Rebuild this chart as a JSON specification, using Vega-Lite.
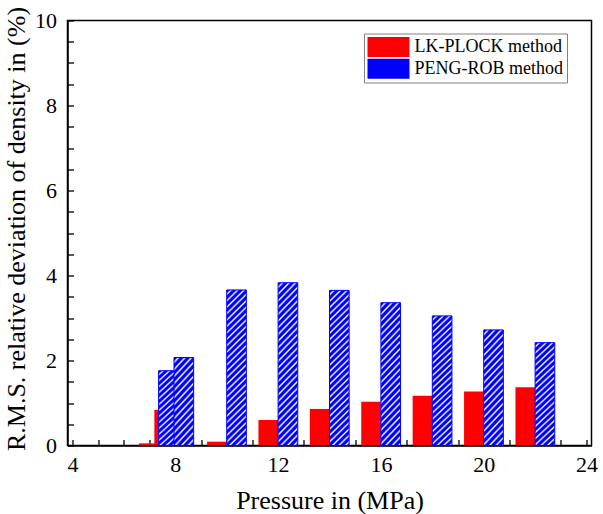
{
 "$schema": "https://vega.github.io/schema/vega-lite/v6.json",
 "width": 524,
 "height": 425,
 "autosize": {"type": "none"},
 "padding": {"left": 67.5, "top": 20.5, "right": 11.5, "bottom": 68.5},
 "background": "white",
 "data": {"values": [
  {"pressure": 7.35, "lk": 0.05, "peng": 1.76},
  {"pressure": 7.95, "lk": 0.84, "peng": 2.07},
  {"pressure": 10, "lk": 0.09, "peng": 3.66},
  {"pressure": 12, "lk": 0.6, "peng": 3.83},
  {"pressure": 14, "lk": 0.86, "peng": 3.65},
  {"pressure": 16, "lk": 1.03, "peng": 3.36},
  {"pressure": 18, "lk": 1.17, "peng": 3.05},
  {"pressure": 20, "lk": 1.27, "peng": 2.72},
  {"pressure": 22, "lk": 1.37, "peng": 2.42}
 ]},
 "encoding": {
  "x": {"field": "pressure", "type": "quantitative",
   "scale": {"domain": [4, 24], "nice": false, "zero": false},
   "axis": {"values": [4,5,6,7,8,9,10,11,12,13,14,15,16,17,18,19,20,21,22,23,24],
    "labelExpr": "datum.value % 4 === 0 ? format(datum.value, 'd') : ''",
    "title": "Pressure in (MPa)"}}
 },
 "layer": [
  {
   "mark": {"type": "bar", "width": 19.65, "xOffset": -9.825},
   "encoding": {
    "y": {"field": "lk", "type": "quantitative", "scale": {"domain": [0, 10], "nice": false},
     "axis": {"values": [0,0.5,1,1.5,2,2.5,3,3.5,4,4.5,5,5.5,6,6.5,7,7.5,8,8.5,9,9.5,10],
      "labelExpr": "datum.value % 2 === 0 ? format(datum.value, 'd') : ''",
      "title": "R.M.S. relative deviation of density in (%)", "titleY": 208}},
    "fill": {"datum": "LK-PLOCK method", "type": "nominal",
     "scale": {"domain": ["LK-PLOCK method", "PENG-ROB method"], "range": ["#ff0000", "#0000ff"]},
     "legend": {"title": null, "orient": "none", "legendX": 296.5, "legendY": 13,
      "symbolType": "M-2.1,-1H2.1V1H-2.1Z", "symbolSize": 400, "symbolOffset": 11,
      "symbolStrokeWidth": 0, "labelOffset": 16,
      "labelFont": "Liberation Serif", "labelFontSize": 18, "labelColor": "#000", "labelLimit": 300,
      "rowPadding": 1.7, "padding": 3.5, "strokeColor": "#808080", "fillColor": "#ffffff"}
    }
   }
  },
  {
   "mark": {"type": "bar", "width": 19.65, "xOffset": 9.825, "stroke": "#0000ff", "strokeWidth": 1},
   "encoding": {
    "y": {"field": "peng", "type": "quantitative", "scale": {"domain": [0, 10], "nice": false},
     "axis": {"values": [0,0.5,1,1.5,2,2.5,3,3.5,4,4.5,5,5.5,6,6.5,7,7.5,8,8.5,9,9.5,10],
      "labelExpr": "datum.value % 2 === 0 ? format(datum.value, 'd') : ''",
      "title": "R.M.S. relative deviation of density in (%)", "titleY": 208}},
    "fill": {"condition": [
       {"test": "datum.peng < 2.25", "value":
       {"gradient": "linear", "x1": 0, "y1": 0, "x2": 0.52823, "y2": 2.1882, "stops": [
{"offset":0,"color":"#00f"},{"offset":0.01379,"color":"#00f"},{"offset":0.02414,"color":"#fff"},
{"offset":0.03448,"color":"#00f"},{"offset":0.04828,"color":"#00f"},{"offset":0.05862,"color":"#fff"},
{"offset":0.06897,"color":"#00f"},{"offset":0.08276,"color":"#00f"},{"offset":0.0931,"color":"#fff"},
{"offset":0.10345,"color":"#00f"},{"offset":0.11724,"color":"#00f"},{"offset":0.12759,"color":"#fff"},
{"offset":0.13793,"color":"#00f"},{"offset":0.15172,"color":"#00f"},{"offset":0.16207,"color":"#fff"},
{"offset":0.17241,"color":"#00f"},{"offset":0.18621,"color":"#00f"},{"offset":0.19655,"color":"#fff"},
{"offset":0.2069,"color":"#00f"},{"offset":0.22069,"color":"#00f"},{"offset":0.23103,"color":"#fff"},
{"offset":0.24138,"color":"#00f"},{"offset":0.25517,"color":"#00f"},{"offset":0.26552,"color":"#fff"},
{"offset":0.27586,"color":"#00f"},{"offset":0.28966,"color":"#00f"},{"offset":0.3,"color":"#fff"},
{"offset":0.31034,"color":"#00f"},{"offset":0.32414,"color":"#00f"},{"offset":0.33448,"color":"#fff"},
{"offset":0.34483,"color":"#00f"},{"offset":0.35862,"color":"#00f"},{"offset":0.36897,"color":"#fff"},
{"offset":0.37931,"color":"#00f"},{"offset":0.3931,"color":"#00f"},{"offset":0.40345,"color":"#fff"},
{"offset":0.41379,"color":"#00f"},{"offset":0.42759,"color":"#00f"},{"offset":0.43793,"color":"#fff"},
{"offset":0.44828,"color":"#00f"},{"offset":0.46207,"color":"#00f"},{"offset":0.47241,"color":"#fff"},
{"offset":0.48276,"color":"#00f"},{"offset":0.49655,"color":"#00f"},{"offset":0.5069,"color":"#fff"},
{"offset":0.51724,"color":"#00f"},{"offset":0.53103,"color":"#00f"},{"offset":0.54138,"color":"#fff"},
{"offset":0.55172,"color":"#00f"},{"offset":0.56552,"color":"#00f"},{"offset":0.57586,"color":"#fff"},
{"offset":0.58621,"color":"#00f"}
       ]}},
       {"test": "datum.peng < 2.9", "value":
       {"gradient": "linear", "x1": 0, "y1": 0, "x2": 0.30088, "y2": 1.67207, "stops": [
{"offset":0,"color":"#00f"},{"offset":0.01379,"color":"#00f"},{"offset":0.02414,"color":"#fff"},
{"offset":0.03448,"color":"#00f"},{"offset":0.04828,"color":"#00f"},{"offset":0.05862,"color":"#fff"},
{"offset":0.06897,"color":"#00f"},{"offset":0.08276,"color":"#00f"},{"offset":0.0931,"color":"#fff"},
{"offset":0.10345,"color":"#00f"},{"offset":0.11724,"color":"#00f"},{"offset":0.12759,"color":"#fff"},
{"offset":0.13793,"color":"#00f"},{"offset":0.15172,"color":"#00f"},{"offset":0.16207,"color":"#fff"},
{"offset":0.17241,"color":"#00f"},{"offset":0.18621,"color":"#00f"},{"offset":0.19655,"color":"#fff"},
{"offset":0.2069,"color":"#00f"},{"offset":0.22069,"color":"#00f"},{"offset":0.23103,"color":"#fff"},
{"offset":0.24138,"color":"#00f"},{"offset":0.25517,"color":"#00f"},{"offset":0.26552,"color":"#fff"},
{"offset":0.27586,"color":"#00f"},{"offset":0.28966,"color":"#00f"},{"offset":0.3,"color":"#fff"},
{"offset":0.31034,"color":"#00f"},{"offset":0.32414,"color":"#00f"},{"offset":0.33448,"color":"#fff"},
{"offset":0.34483,"color":"#00f"},{"offset":0.35862,"color":"#00f"},{"offset":0.36897,"color":"#fff"},
{"offset":0.37931,"color":"#00f"},{"offset":0.3931,"color":"#00f"},{"offset":0.40345,"color":"#fff"},
{"offset":0.41379,"color":"#00f"},{"offset":0.42759,"color":"#00f"},{"offset":0.43793,"color":"#fff"},
{"offset":0.44828,"color":"#00f"},{"offset":0.46207,"color":"#00f"},{"offset":0.47241,"color":"#fff"},
{"offset":0.48276,"color":"#00f"},{"offset":0.49655,"color":"#00f"},{"offset":0.5069,"color":"#fff"},
{"offset":0.51724,"color":"#00f"},{"offset":0.53103,"color":"#00f"},{"offset":0.54138,"color":"#fff"},
{"offset":0.55172,"color":"#00f"},{"offset":0.56552,"color":"#00f"},{"offset":0.57586,"color":"#fff"},
{"offset":0.58621,"color":"#00f"},{"offset":0.6,"color":"#00f"},{"offset":0.61034,"color":"#fff"},
{"offset":0.62069,"color":"#00f"},{"offset":0.63448,"color":"#00f"},{"offset":0.64483,"color":"#fff"},
{"offset":0.65517,"color":"#00f"},{"offset":0.66897,"color":"#00f"},{"offset":0.67931,"color":"#fff"},
{"offset":0.68966,"color":"#00f"},{"offset":0.70345,"color":"#00f"},{"offset":0.71379,"color":"#fff"},
{"offset":0.72414,"color":"#00f"}
       ]}},
       {"test": "datum.peng < 3.5", "value":
       {"gradient": "linear", "x1": 0, "y1": 0, "x2": 0.1956, "y2": 1.35578, "stops": [
{"offset":0,"color":"#00f"},{"offset":0.01379,"color":"#00f"},{"offset":0.02414,"color":"#fff"},
{"offset":0.03448,"color":"#00f"},{"offset":0.04828,"color":"#00f"},{"offset":0.05862,"color":"#fff"},
{"offset":0.06897,"color":"#00f"},{"offset":0.08276,"color":"#00f"},{"offset":0.0931,"color":"#fff"},
{"offset":0.10345,"color":"#00f"},{"offset":0.11724,"color":"#00f"},{"offset":0.12759,"color":"#fff"},
{"offset":0.13793,"color":"#00f"},{"offset":0.15172,"color":"#00f"},{"offset":0.16207,"color":"#fff"},
{"offset":0.17241,"color":"#00f"},{"offset":0.18621,"color":"#00f"},{"offset":0.19655,"color":"#fff"},
{"offset":0.2069,"color":"#00f"},{"offset":0.22069,"color":"#00f"},{"offset":0.23103,"color":"#fff"},
{"offset":0.24138,"color":"#00f"},{"offset":0.25517,"color":"#00f"},{"offset":0.26552,"color":"#fff"},
{"offset":0.27586,"color":"#00f"},{"offset":0.28966,"color":"#00f"},{"offset":0.3,"color":"#fff"},
{"offset":0.31034,"color":"#00f"},{"offset":0.32414,"color":"#00f"},{"offset":0.33448,"color":"#fff"},
{"offset":0.34483,"color":"#00f"},{"offset":0.35862,"color":"#00f"},{"offset":0.36897,"color":"#fff"},
{"offset":0.37931,"color":"#00f"},{"offset":0.3931,"color":"#00f"},{"offset":0.40345,"color":"#fff"},
{"offset":0.41379,"color":"#00f"},{"offset":0.42759,"color":"#00f"},{"offset":0.43793,"color":"#fff"},
{"offset":0.44828,"color":"#00f"},{"offset":0.46207,"color":"#00f"},{"offset":0.47241,"color":"#fff"},
{"offset":0.48276,"color":"#00f"},{"offset":0.49655,"color":"#00f"},{"offset":0.5069,"color":"#fff"},
{"offset":0.51724,"color":"#00f"},{"offset":0.53103,"color":"#00f"},{"offset":0.54138,"color":"#fff"},
{"offset":0.55172,"color":"#00f"},{"offset":0.56552,"color":"#00f"},{"offset":0.57586,"color":"#fff"},
{"offset":0.58621,"color":"#00f"},{"offset":0.6,"color":"#00f"},{"offset":0.61034,"color":"#fff"},
{"offset":0.62069,"color":"#00f"},{"offset":0.63448,"color":"#00f"},{"offset":0.64483,"color":"#fff"},
{"offset":0.65517,"color":"#00f"},{"offset":0.66897,"color":"#00f"},{"offset":0.67931,"color":"#fff"},
{"offset":0.68966,"color":"#00f"},{"offset":0.70345,"color":"#00f"},{"offset":0.71379,"color":"#fff"},
{"offset":0.72414,"color":"#00f"},{"offset":0.73793,"color":"#00f"},{"offset":0.74828,"color":"#fff"},
{"offset":0.75862,"color":"#00f"},{"offset":0.77241,"color":"#00f"},{"offset":0.78276,"color":"#fff"},
{"offset":0.7931,"color":"#00f"},{"offset":0.8069,"color":"#00f"},{"offset":0.81724,"color":"#fff"},
{"offset":0.82759,"color":"#00f"},{"offset":0.84138,"color":"#00f"},{"offset":0.85172,"color":"#fff"},
{"offset":0.86207,"color":"#00f"}
       ]}}
      ],
      "value":
       {"gradient": "linear", "x1": 0, "y1": 0, "x2": 0.14666, "y2": 1.17704, "stops": [
{"offset":0,"color":"#00f"},{"offset":0.01379,"color":"#00f"},{"offset":0.02414,"color":"#fff"},
{"offset":0.03448,"color":"#00f"},{"offset":0.04828,"color":"#00f"},{"offset":0.05862,"color":"#fff"},
{"offset":0.06897,"color":"#00f"},{"offset":0.08276,"color":"#00f"},{"offset":0.0931,"color":"#fff"},
{"offset":0.10345,"color":"#00f"},{"offset":0.11724,"color":"#00f"},{"offset":0.12759,"color":"#fff"},
{"offset":0.13793,"color":"#00f"},{"offset":0.15172,"color":"#00f"},{"offset":0.16207,"color":"#fff"},
{"offset":0.17241,"color":"#00f"},{"offset":0.18621,"color":"#00f"},{"offset":0.19655,"color":"#fff"},
{"offset":0.2069,"color":"#00f"},{"offset":0.22069,"color":"#00f"},{"offset":0.23103,"color":"#fff"},
{"offset":0.24138,"color":"#00f"},{"offset":0.25517,"color":"#00f"},{"offset":0.26552,"color":"#fff"},
{"offset":0.27586,"color":"#00f"},{"offset":0.28966,"color":"#00f"},{"offset":0.3,"color":"#fff"},
{"offset":0.31034,"color":"#00f"},{"offset":0.32414,"color":"#00f"},{"offset":0.33448,"color":"#fff"},
{"offset":0.34483,"color":"#00f"},{"offset":0.35862,"color":"#00f"},{"offset":0.36897,"color":"#fff"},
{"offset":0.37931,"color":"#00f"},{"offset":0.3931,"color":"#00f"},{"offset":0.40345,"color":"#fff"},
{"offset":0.41379,"color":"#00f"},{"offset":0.42759,"color":"#00f"},{"offset":0.43793,"color":"#fff"},
{"offset":0.44828,"color":"#00f"},{"offset":0.46207,"color":"#00f"},{"offset":0.47241,"color":"#fff"},
{"offset":0.48276,"color":"#00f"},{"offset":0.49655,"color":"#00f"},{"offset":0.5069,"color":"#fff"},
{"offset":0.51724,"color":"#00f"},{"offset":0.53103,"color":"#00f"},{"offset":0.54138,"color":"#fff"},
{"offset":0.55172,"color":"#00f"},{"offset":0.56552,"color":"#00f"},{"offset":0.57586,"color":"#fff"},
{"offset":0.58621,"color":"#00f"},{"offset":0.6,"color":"#00f"},{"offset":0.61034,"color":"#fff"},
{"offset":0.62069,"color":"#00f"},{"offset":0.63448,"color":"#00f"},{"offset":0.64483,"color":"#fff"},
{"offset":0.65517,"color":"#00f"},{"offset":0.66897,"color":"#00f"},{"offset":0.67931,"color":"#fff"},
{"offset":0.68966,"color":"#00f"},{"offset":0.70345,"color":"#00f"},{"offset":0.71379,"color":"#fff"},
{"offset":0.72414,"color":"#00f"},{"offset":0.73793,"color":"#00f"},{"offset":0.74828,"color":"#fff"},
{"offset":0.75862,"color":"#00f"},{"offset":0.77241,"color":"#00f"},{"offset":0.78276,"color":"#fff"},
{"offset":0.7931,"color":"#00f"},{"offset":0.8069,"color":"#00f"},{"offset":0.81724,"color":"#fff"},
{"offset":0.82759,"color":"#00f"},{"offset":0.84138,"color":"#00f"},{"offset":0.85172,"color":"#fff"},
{"offset":0.86207,"color":"#00f"},{"offset":0.87586,"color":"#00f"},{"offset":0.88621,"color":"#fff"},
{"offset":0.89655,"color":"#00f"},{"offset":0.91034,"color":"#00f"},{"offset":0.92069,"color":"#fff"},
{"offset":0.93103,"color":"#00f"},{"offset":0.94483,"color":"#00f"},{"offset":0.95517,"color":"#fff"},
{"offset":0.96552,"color":"#00f"},{"offset":0.97931,"color":"#00f"},{"offset":0.98966,"color":"#fff"},
{"offset":1,"color":"#00f"}
       ]}}
   }
  }
 ],
 "resolve": {"scale": {"fill": "independent"}},
 "config": {
  "view": {"stroke": "#000000", "strokeWidth": 1.5},
  "font": "Liberation Serif",
  "axis": {"grid": false, "domainColor": "#000000", "domainWidth": 1.5,
   "tickColor": "#000000", "tickWidth": 1.3, "tickSize": -6,
   "labelColor": "#000000", "labelFont": "Liberation Serif", "labelFontSize": 22,
   "titleFont": "Liberation Serif", "titleFontSize": 26, "titleFontWeight": "normal", "titleColor": "#000000",
   "labelFlush": false, "labelOverlap": false, "zindex": 1},
  "axisX": {"labelPadding": 14.6, "titlePadding": 12},
  "axisY": {"labelPadding": 17, "titlePadding": 5}
 }
}
